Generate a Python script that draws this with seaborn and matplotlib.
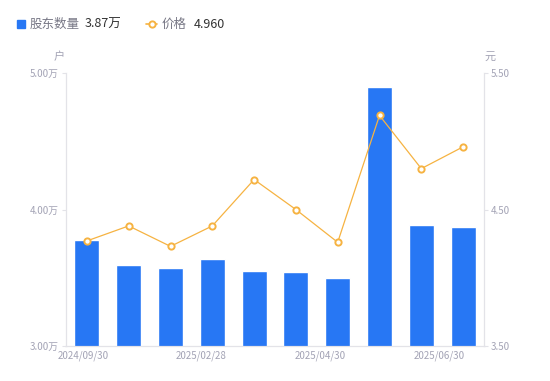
import numpy as np
import pandas as pd
import matplotlib.pyplot as plt
import seaborn as sns
from matplotlib.lines import Line2D

# values
periods = ["P1", "P2", "P3", "P4", "P5", "P6", "P7", "P8", "P9", "P10"]
holders = [3.78, 3.59, 3.57, 3.64, 3.55, 3.54, 3.50, 4.90, 3.89, 3.87]   # 万户
prices = [4.27, 4.38, 4.23, 4.38, 4.72, 4.50, 4.26, 5.19, 4.80, 4.96]   # 元
date_labels = ["2024/09/30", "2025/02/28", "2025/04/30", "2025/06/30"]

BLUE = "#2777f4"
ORANGE = "#f6b342"
GRAY = "#a3a3b5"
AXIS = "#e3e3e8"

sns.set_style("white")
plt.rcParams["font.family"] = ["Noto Sans CJK SC", "DejaVu Sans"]

df = pd.DataFrame({"period": periods, "holders": holders, "price": prices})
df["idx"] = np.arange(len(df))

fig = plt.figure(figsize=(5.5, 3.81), dpi=100)
ax = fig.add_axes([0.12, 0.092, 0.76, 0.716])

sns.barplot(data=df, x="period", y="holders", color=BLUE, saturation=1,
            width=0.6, ax=ax)
ax.set_ylim(3.0, 5.0)
ax.set_xlim(-0.5, len(df) - 0.5)
ax.set_yticks([3.0, 4.0, 5.0])
ax.set_yticklabels(["3.00万", "4.00万", "5.00万"])

ax2 = ax.twinx()
sns.lineplot(data=df, x="idx", y="price", color=ORANGE, linewidth=0.9,
             marker="o", markersize=4.5, markerfacecolor="white",
             markeredgecolor=ORANGE, markeredgewidth=1.4, ax=ax2)
ax2.set_ylim(3.5, 5.5)
ax2.set_yticks([3.5, 4.5, 5.5])
ax2.set_yticklabels(["3.50", "4.50", "5.50"])

# x labels spread evenly like the source
ax.set_xticks(np.linspace(-0.1, 8.42, len(date_labels)))
ax.set_xticklabels(date_labels)

for a in (ax, ax2):
    a.set_xlabel("")
    a.set_ylabel("")
    for s in a.spines.values():
        s.set_color(AXIS)
        s.set_linewidth(0.8)
    a.spines["top"].set_visible(False)
    a.tick_params(axis="both", colors=AXIS, labelcolor=GRAY, labelsize=7,
                  length=3, width=0.8, pad=2)
ax.tick_params(axis="x", length=0, pad=3)
ax.grid(False)
ax2.grid(False)

fig.text(59 / 550, 1 - 57 / 381, "户", color=GRAY, fontsize=8,
         ha="center", va="center")
fig.text(490 / 550, 1 - 57 / 381, "元", color=GRAY, fontsize=8,
         ha="center", va="center")

# custom legend row
fig.patches.append(plt.Rectangle((17 / 550, 1 - 28 / 381), 8 / 550, 8 / 381,
                                 transform=fig.transFigure, color=BLUE))
fig.text(30 / 550, 1 - 24 / 381, "股东数量", color="#777785", fontsize=9,
         va="center")
fig.text(85 / 550, 1 - 24 / 381, "3.87万", color="#333333", fontsize=9,
         va="center")
fig.lines.append(Line2D([146 / 550, 157 / 550], [1 - 24 / 381, 1 - 24 / 381],
                        transform=fig.transFigure, color=ORANGE, linewidth=1.2))
fig.lines.append(Line2D([151.5 / 550], [1 - 24 / 381], transform=fig.transFigure,
                        color=ORANGE, marker="o", markersize=4.5,
                        markerfacecolor="white", markeredgewidth=1.4))
fig.text(162 / 550, 1 - 24 / 381, "价格", color="#777785", fontsize=9,
         va="center")
fig.text(194 / 550, 1 - 24 / 381, "4.960", color="#333333", fontsize=9,
         va="center")

fig.savefig("out.png", dpi=100)
